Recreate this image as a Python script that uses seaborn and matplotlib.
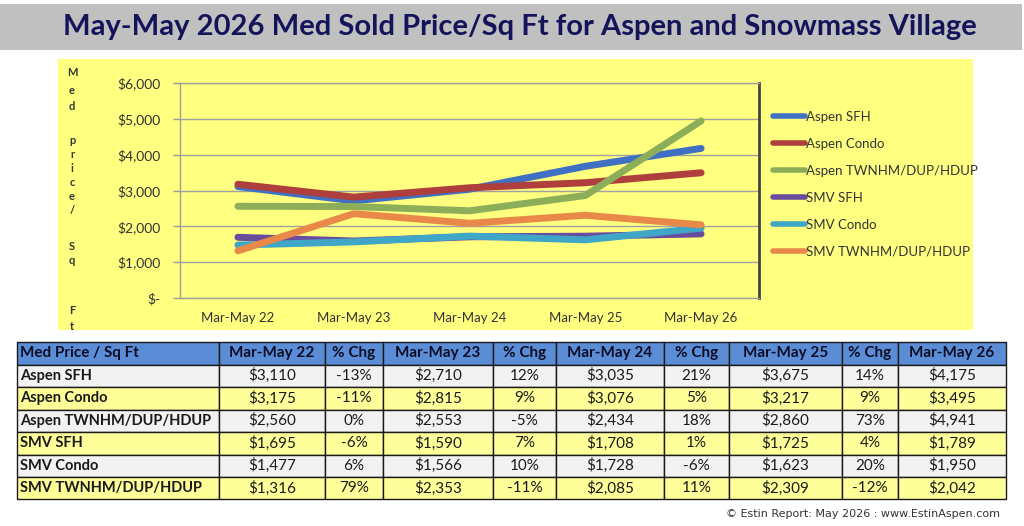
import numpy as np
import pandas as pd
import matplotlib
matplotlib.use("Agg")
import matplotlib.pyplot as plt
from matplotlib.patches import Rectangle
import seaborn as sns

# ---------------- data ----------------
categories = ["Mar-May 22", "Mar-May 23", "Mar-May 24", "Mar-May 25", "Mar-May 26"]
series_names = ["Aspen SFH", "Aspen Condo", "Aspen TWNHM/DUP/HDUP",
                "SMV SFH", "SMV Condo", "SMV TWNHM/DUP/HDUP"]
aspen_sfh = [3110, 2710, 3035, 3675, 4175]
aspen_condo = [3175, 2815, 3076, 3217, 3495]
aspen_twn = [2560, 2553, 2434, 2860, 4941]
smv_sfh = [1695, 1590, 1708, 1725, 1789]
smv_condo = [1477, 1566, 1728, 1623, 1950]
smv_twn = [1316, 2353, 2085, 2309, 2042]

aspen_sfh_chg = ["-13%", "12%", "21%", "14%"]
aspen_condo_chg = ["-11%", "9%", "5%", "9%"]
aspen_twn_chg = ["0%", "-5%", "18%", "73%"]
smv_sfh_chg = ["-6%", "7%", "1%", "4%"]
smv_condo_chg = ["6%", "10%", "-6%", "20%"]
smv_twn_chg = ["79%", "-11%", "11%", "-12%"]

yticks = [0, 1000, 2000, 3000, 4000, 5000, 6000]
ytick_labels = ["$-", "$1,000", "$2,000", "$3,000", "$4,000", "$5,000", "$6,000"]

title = "May-May 2026 Med Sold Price/Sq Ft for Aspen and Snowmass Village"
table_header = ["Med Price / Sq Ft", "Mar-May 22", "% Chg", "Mar-May 23", "% Chg",
                "Mar-May 24", "% Chg", "Mar-May 25", "% Chg", "Mar-May 26"]
footer = "\u00a9 Estin Report: May 2026 : www.EstinAspen.com"
ylabel_letters = ["M", "e", "d", "p", "r", "i", "c", "e", "/", "S", "q", "F", "t"]
ylabel_ypos = [73, 90, 106, 140, 155, 169, 183, 196, 211, 246, 260, 310, 326]

all_values = [aspen_sfh, aspen_condo, aspen_twn, smv_sfh, smv_condo, smv_twn]
all_chg = [aspen_sfh_chg, aspen_condo_chg, aspen_twn_chg, smv_sfh_chg, smv_condo_chg, smv_twn_chg]

colors = ["#4070C4", "#AE3F3C", "#8CAE58", "#6A4C9C", "#3FA6C8", "#E8894A"]

df = pd.DataFrame({
    "idx": np.tile(np.arange(len(categories)), len(series_names)),
    "value": np.concatenate(all_values),
    "series": np.repeat(series_names, len(categories)),
})

# ---------------- figure ----------------
sns.set_theme(style="white")
plt.rcParams["font.family"] = ["Lato", "DejaVu Sans"]

W, H = 1024, 526
fig = plt.figure(figsize=(W / 100, H / 100), dpi=100)
fig.patch.set_facecolor("white")

bg = fig.add_axes([0, 0, 1, 1], zorder=0)
bg.set_xlim(0, W)
bg.set_ylim(H, 0)
bg.axis("off")

# title banner
bg.add_patch(Rectangle((0, 4), 1022, 46, facecolor="#c0c0c0", edgecolor="none"))
bg.text(520, 27, title, ha="center", va="center", fontsize=21, fontweight="bold",
        color="#14145a")

# chart background
bg.add_patch(Rectangle((58, 59), 915, 271, facecolor="#ffff80", edgecolor="none"))

# stacked y label
for ch, yy in zip(ylabel_letters, ylabel_ypos):
    if yy < 330:
        bg.text(72, yy, ch, ha="center", va="center", fontsize=8, fontweight="bold",
                color="#333333", clip_on=False)

# ---------------- line chart ----------------
ax = fig.add_axes([180 / W, 1 - 298 / H, 579 / W, 215 / H], zorder=1)
ax.set_facecolor("#ffff80")
sns.lineplot(data=df, x="idx", y="value", hue="series", hue_order=series_names,
             palette=colors, linewidth=5, sort=False, ax=ax, legend=True,
             solid_capstyle="round")
ax.set_xlim(-0.5, len(categories) - 0.5)
ax.set_ylim(0, 6000)
ax.set_yticks(yticks)
ax.set_yticklabels(ytick_labels, fontsize=10, color="#333333")
ax.set_xticks(np.arange(len(categories)))
ax.set_xticklabels(categories, fontsize=9.5, color="#333333")
ax.set_xticks(np.arange(len(categories) + 1) - 0.5, minor=True)
ax.tick_params(axis="x", which="major", length=0, pad=10)
ax.tick_params(axis="x", which="minor", length=5, color="#999999", width=1)
ax.tick_params(axis="y", length=5, color="#999999", width=1, left=True, pad=9)
ax.grid(axis="y", color="#a0a0a0", linewidth=1)
ax.set_axisbelow(True)
ax.set_xlabel("")
ax.set_ylabel("")
for side in ["left", "bottom", "top"]:
    ax.spines[side].set_color("#a0a0a0")
    ax.spines[side].set_linewidth(1)
ax.spines["right"].set_color("#444444")
ax.spines["right"].set_linewidth(2)

handles, labels = ax.get_legend_handles_labels()
leg = ax.legend(handles, labels, loc="upper left", bbox_to_anchor=(773 / W, 1 - 111 / H),
                bbox_transform=fig.transFigure, frameon=False, fontsize=9.5,
                handlelength=2.4, handletextpad=0.1, labelspacing=1.13, borderaxespad=0,
                borderpad=0)
for line in leg.get_lines():
    line.set_linewidth(4)
for t in leg.get_texts():
    t.set_color("#333333")

# ---------------- table ----------------
col_edges = [17, 219, 325, 383, 493, 556, 664, 729, 842, 898, 1006]
row_edges = [342, 364.5, 387, 409.5, 432, 454.5, 477, 499]
row_colors = ["#f2f2f2", "#ffff99"]
header_color = "#5b8dd6"
txt_color = "#1a1a1a"
fs_tab = 11

for c in range(len(col_edges) - 1):
    x0, x1 = col_edges[c], col_edges[c + 1]
    y0, y1 = row_edges[0], row_edges[1]
    bg.add_patch(Rectangle((x0, y0), x1 - x0, y1 - y0, facecolor=header_color,
                           edgecolor="#1a1a1a", linewidth=1))
    if c == 0:
        bg.text(x0 + 3, (y0 + y1) / 2, table_header[c], ha="left", va="center",
                fontsize=fs_tab, fontweight="bold", color="#0d0d26")
    else:
        bg.text((x0 + x1) / 2, (y0 + y1) / 2, table_header[c], ha="center", va="center",
                fontsize=fs_tab, fontweight="bold", color="#0d0d26")

for r, name in enumerate(series_names):
    y0, y1 = row_edges[r + 1], row_edges[r + 2]
    fc = row_colors[r % 2]
    cells = [name]
    for k in range(len(categories)):
        cells.append("${:,}".format(all_values[r][k]))
        if k < len(all_chg[r]):
            cells.append(all_chg[r][k])
    for c in range(len(col_edges) - 1):
        x0, x1 = col_edges[c], col_edges[c + 1]
        bg.add_patch(Rectangle((x0, y0), x1 - x0, y1 - y0, facecolor=fc,
                               edgecolor="#1a1a1a", linewidth=1))
        if c == 0:
            bg.text(x0 + 3, (y0 + y1) / 2, cells[c], ha="left", va="center",
                    fontsize=10.5, fontweight="bold", color=txt_color)
        else:
            bg.text((x0 + x1) / 2, (y0 + y1) / 2, cells[c], ha="center", va="center",
                    fontsize=fs_tab, color=txt_color)

bg.text(1000, 514, footer, ha="right", va="center", fontsize=8, color="#333333",
        family=["DejaVu Sans"])

fig.savefig("out.png", dpi=100, facecolor="white")
